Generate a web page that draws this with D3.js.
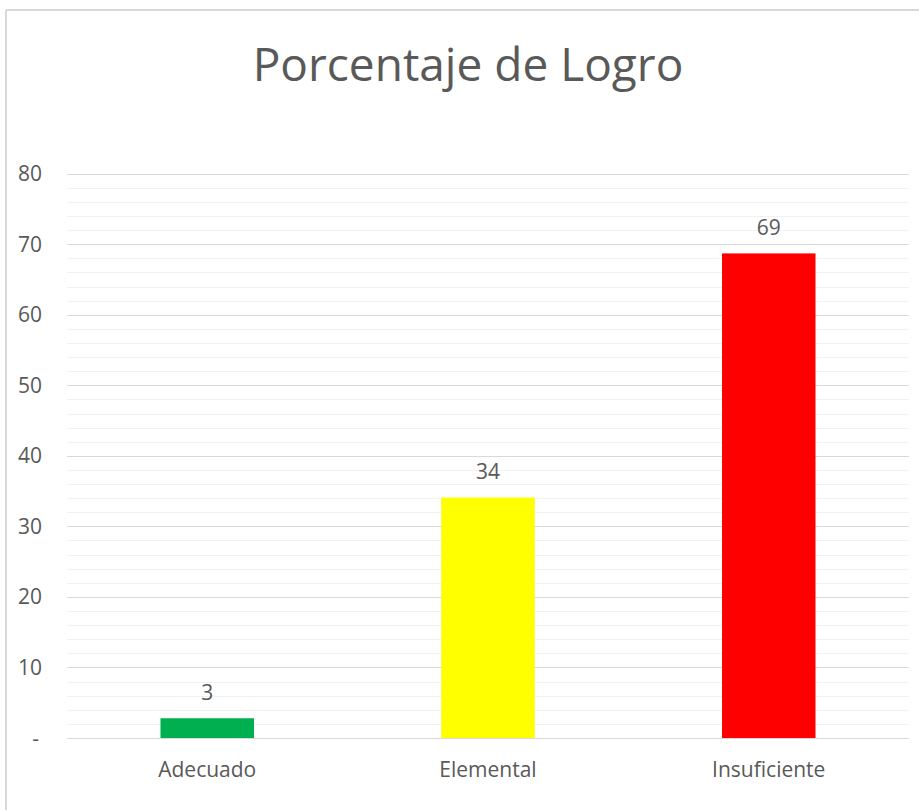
<!DOCTYPE html>
<html lang="es">
<head>
    <meta charset="UTF-8">
    <style>
        body { margin: 0; background: #fff; }
        svg text { font-family: "Open Sans", "Lato", sans-serif; fill: #595959; }
    </style>
    <script src="https://d3js.org/d3.v7.min.js"></script>
</head>
<body>
    <div id="chart"></div>
    <script>
        // Chart data
        var categories = ["Adecuado", "Elemental", "Insuficiente"];
        var values = [2.8, 34.1, 68.7];
        var barColors = ["#00B050", "#FFFF00", "#FF0000"];
        var majorTicks = [0, 10, 20, 30, 40, 50, 60, 70, 80];
        var minorTicks = d3.range(0, 81, 2);
        var title = "Porcentaje de Logro";

        var width = 919, height = 810;
        var margin = { top: 173.7, right: 10, bottom: 72, left: 67 };

        var svg = d3.select("#chart")
            .append("svg")
            .attr("width", width)
            .attr("height", height);

        // chart border (only top and left visible)
        svg.append("line")
            .attr("x1", 6).attr("x2", width).attr("y1", 10).attr("y2", 10)
            .attr("stroke", "#d9d9d9").attr("stroke-width", 2);
        svg.append("line")
            .attr("x1", 6).attr("x2", 6).attr("y1", 10).attr("y2", height)
            .attr("stroke", "#d9d9d9").attr("stroke-width", 2);

        var x = d3.scaleBand()
            .domain(categories)
            .range([margin.left, 909])
            .paddingInner(0.667)
            .paddingOuter(0.333);

        var y = d3.scaleLinear()
            .domain([0, 80])
            .range([738, margin.top]);

        // minor gridlines
        svg.append("g")
            .selectAll("line")
            .data(minorTicks.filter(d => d % 10 !== 0))
            .enter().append("line")
            .attr("x1", margin.left).attr("x2", 909)
            .attr("y1", d => Math.round(y(d)) + 0.5)
            .attr("y2", d => Math.round(y(d)) + 0.5)
            .attr("stroke", "#f2f2f2");

        // major gridlines
        svg.append("g")
            .selectAll("line")
            .data(majorTicks)
            .enter().append("line")
            .attr("x1", margin.left).attr("x2", 909)
            .attr("y1", d => Math.round(y(d)) + 0.5)
            .attr("y2", d => Math.round(y(d)) + 0.5)
            .attr("stroke", "#d9d9d9");

        // y axis labels
        svg.append("g")
            .selectAll("text")
            .data(majorTicks)
            .enter().append("text")
            .attr("x", d => d === 0 ? 39 : 42)
            .attr("y", d => y(d))
            .attr("dy", "0.36em")
            .attr("text-anchor", "end")
            .style("font-size", "21px")
            .text(d => d === 0 ? "-" : d);

        // bars
        svg.append("g")
            .selectAll("rect")
            .data(values)
            .enter().append("rect")
            .attr("x", (d, i) => x(categories[i]))
            .attr("y", d => y(d))
            .attr("width", x.bandwidth())
            .attr("height", d => y(0) - y(d))
            .attr("fill", (d, i) => barColors[i]);

        // data labels
        svg.append("g")
            .selectAll("text")
            .data(values)
            .enter().append("text")
            .attr("x", (d, i) => x(categories[i]) + x.bandwidth() / 2)
            .attr("y", d => y(d) - 18)
            .attr("text-anchor", "middle")
            .style("font-size", "21px")
            .text(d => d3.format(".0f")(d));

        // category labels
        svg.append("g")
            .selectAll("text")
            .data(categories)
            .enter().append("text")
            .attr("x", d => x(d) + x.bandwidth() / 2)
            .attr("y", 777)
            .attr("text-anchor", "middle")
            .style("font-size", "21px")
            .text(d => d);

        // title
        svg.append("text")
            .attr("x", 468)
            .attr("y", 81)
            .attr("text-anchor", "middle")
            .style("font-size", "46px")
            .text(title);
    </script>
</body>
</html>
